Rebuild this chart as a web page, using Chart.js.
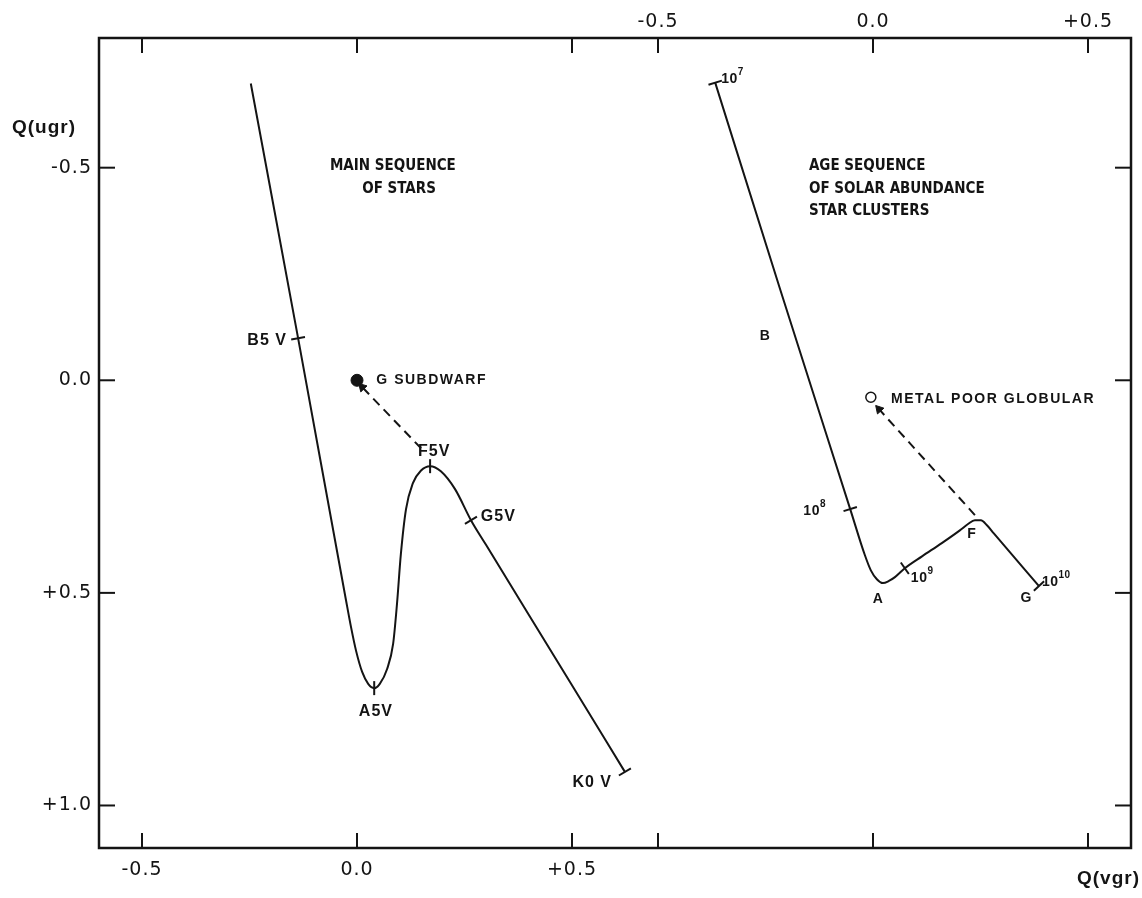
<!DOCTYPE html>
<html>
<head>
<meta charset="utf-8">
<script src="https://cdn.jsdelivr.net/npm/chart.js@4.4.0/dist/chart.umd.min.js"></script>
<style>
  html, body { margin: 0; padding: 0; background: #fff; }
  #wrap { width: 1142px; height: 898px; }
</style>
</head>
<body>
<div id="wrap"><canvas id="chart" width="1142" height="898"></canvas></div>
<script>
// Main sequence of stars, bottom axis Q(vgr) vs Q(ugr)
const mainSeqX = [-0.247, -0.137, -0.026, -0.014, -0.002, 0.012, 0.026, 0.040, 0.053, 0.070, 0.084, 0.093, 0.102, 0.114, 0.130, 0.149, 0.170, 0.195, 0.228, 0.265, 0.300, 0.495, 0.623];
const mainSeqY = [-0.698, -0.099, 0.515, 0.580, 0.637, 0.686, 0.714, 0.724, 0.714, 0.679, 0.620, 0.526, 0.409, 0.303, 0.242, 0.212, 0.202, 0.214, 0.256, 0.329, 0.387, 0.709, 0.921];

// Age sequence of solar abundance clusters, top axis Q(vgr)
const ageSeqX = [-0.367, -0.216, -0.053, -0.019, -0.005, 0.009, 0.023, 0.037, 0.051, 0.074, 0.114, 0.160, 0.202, 0.221, 0.237, 0.251, 0.265, 0.281, 0.386];
const ageSeqY = [-0.700, -0.214, 0.303, 0.411, 0.447, 0.468, 0.477, 0.472, 0.463, 0.442, 0.414, 0.383, 0.353, 0.338, 0.329, 0.329, 0.341, 0.360, 0.484];

// spectral type marks (B5 V, A5 V, F5 V, G5 V, K0 V) and age marks (1e7 .. 1e10)
const mainMarkX = [-0.137, 0.040, 0.170, 0.265, 0.623];
const mainMarkY = [-0.099, 0.724, 0.202, 0.329, 0.921];
const ageMarkX = [-0.367, -0.053, 0.074, 0.386];
const ageMarkY = [-0.700, 0.303, 0.442, 0.484];

// single objects and the dashed arrows leading to them
const subdwarfX = [0.0], subdwarfY = [0.0];
const globularX = [-0.005], globularY = [0.040];
const mainArrowX = [0.149, 0.012], mainArrowY = [0.160, 0.016];
const ageArrowX = [0.237, 0.014], ageArrowY = [0.317, 0.068];

const xTicks = [-0.5, 0.0, 0.5];
const yTicks = [-0.5, 0.0, 0.5, 1.0];

// [text, superscript, x, y, axis, align, kind]
const labels = [
  ['MAIN SEQUENCE', '', -0.063, -0.503, 'x', 'left', 'head'],
  ['OF STARS', '', 0.012, -0.449, 'x', 'left', 'head'],
  ['B5 V', '', -0.163, -0.094, 'x', 'right', 'type'],
  ['G SUBDWARF', '', 0.045, 0.0, 'x', 'left', 'small'],
  ['F5V', '', 0.142, 0.167, 'x', 'left', 'type'],
  ['G5V', '', 0.288, 0.320, 'x', 'left', 'type'],
  ['A5V', '', 0.044, 0.780, 'x', 'center', 'type'],
  ['K0 V', '', 0.593, 0.945, 'x', 'right', 'type'],
  ['AGE SEQUENCE', '', -0.149, -0.503, 'xTop', 'left', 'head'],
  ['OF SOLAR ABUNDANCE', '', -0.149, -0.449, 'xTop', 'left', 'head'],
  ['STAR CLUSTERS', '', -0.149, -0.397, 'xTop', 'left', 'head'],
  ['B', '', -0.251, -0.103, 'xTop', 'center', 'letter'],
  ['10', '7', -0.353, -0.708, 'xTop', 'left', 'letter'],
  ['10', '8', -0.162, 0.308, 'xTop', 'left', 'letter'],
  ['A', '', 0.012, 0.515, 'xTop', 'center', 'letter'],
  ['10', '9', 0.088, 0.465, 'xTop', 'left', 'letter'],
  ['F', '', 0.230, 0.362, 'xTop', 'center', 'letter'],
  ['G', '', 0.356, 0.512, 'xTop', 'center', 'letter'],
  ['10', '10', 0.393, 0.474, 'xTop', 'left', 'letter'],
  ['METAL POOR GLOBULAR', '', 0.042, 0.045, 'xTop', 'left', 'small'],
];

const INK = '#141414';
const LABEL_FONT = {
  head:   ['bold 15px "DejaVu Sans Condensed", "Liberation Sans", sans-serif', '0px'],
  small:  ['bold 14px "Liberation Sans", sans-serif', '1.5px'],
  type:   ['bold 16px "Liberation Sans", sans-serif', '1px'],
  letter: ['bold 14px "Liberation Sans", sans-serif', '0.5px'],
};

function pts(xs, ys) { return xs.map(function (x, i) { return { x: x, y: ys[i] }; }); }

function fmtTick(v) {
  if (v === 0) return '0.0';
  return (v > 0 ? '+' : '-') + Math.abs(v).toFixed(1);
}

function seg(ctx, x1, y1, x2, y2) {
  ctx.beginPath(); ctx.moveTo(x1, y1); ctx.lineTo(x2, y2); ctx.stroke();
}

const framePlugin = {
  id: 'frame',
  afterDraw: function (chart) {
    const ctx = chart.ctx, a = chart.chartArea, s = chart.scales;
    ctx.save();
    ctx.strokeStyle = INK;
    ctx.fillStyle = INK;
    ctx.lineWidth = 2.5;
    ctx.strokeRect(a.left, a.top, a.right - a.left, a.bottom - a.top);

    // inward ticks: both x systems on both horizontal edges
    ctx.lineWidth = 2;
    const xs = xTicks.map(function (v) { return s.x.getPixelForValue(v); })
      .concat(xTicks.map(function (v) { return s.xTop.getPixelForValue(v); }));
    xs.forEach(function (px) {
      seg(ctx, px, a.bottom, px, a.bottom - 15);
      seg(ctx, px, a.top, px, a.top + 15);
    });
    yTicks.forEach(function (v) {
      const py = s.y.getPixelForValue(v);
      seg(ctx, a.left, py, a.left + 16, py);
      seg(ctx, a.right, py, a.right - 16, py);
    });

    // tick labels
    ctx.font = '19px "DejaVu Sans", sans-serif';
    ctx.letterSpacing = '1px';
    ctx.textBaseline = 'middle';
    ctx.textAlign = 'center';
    xTicks.forEach(function (v) {
      ctx.fillText(fmtTick(v), s.x.getPixelForValue(v), a.bottom + 22);
      ctx.fillText(fmtTick(v), s.xTop.getPixelForValue(v), a.top - 16);
    });
    ctx.textAlign = 'right';
    yTicks.forEach(function (v) {
      ctx.fillText(fmtTick(v), a.left - 7, s.y.getPixelForValue(v));
    });

    // axis titles
    ctx.font = 'bold 19px "Liberation Sans", sans-serif';
    ctx.textAlign = 'left';
    ctx.fillText('Q(ugr)', 12, s.y.getPixelForValue(-0.5) - 40);
    ctx.textAlign = 'right';
    ctx.fillText('Q(vgr)', 1140, a.bottom + 31);

    // annotations
    labels.forEach(function (l) {
      const f = LABEL_FONT[l[6]];
      ctx.font = f[0];
      ctx.letterSpacing = f[1];
      ctx.textAlign = l[5];
      const px = s[l[4]].getPixelForValue(l[2]);
      const py = s.y.getPixelForValue(l[3]);
      ctx.fillText(l[0], px, py);
      if (l[1]) {
        const w = ctx.measureText(l[0]).width;
        ctx.font = 'bold 10px "Liberation Sans", sans-serif';
        ctx.textAlign = 'left';
        ctx.fillText(l[1], px + w, py - 7);
      }
    });
    ctx.restore();
  },
};

const lineStyle = {
  showLine: true,
  borderColor: INK,
  borderWidth: 2,
  pointRadius: 0,
  cubicInterpolationMode: 'monotone',
};

new Chart(document.getElementById('chart').getContext('2d'), {
  type: 'scatter',
  data: {
    datasets: [
      Object.assign({ label: 'main sequence', data: pts(mainSeqX, mainSeqY), xAxisID: 'x' }, lineStyle),
      Object.assign({ label: 'age sequence', data: pts(ageSeqX, ageSeqY), xAxisID: 'xTop' }, lineStyle),
      {
        label: 'spectral marks', data: pts(mainMarkX, mainMarkY), xAxisID: 'x',
        pointStyle: 'line', pointRadius: 7, borderWidth: 2, borderColor: INK,
        rotation: [-10, 90, 90, -31, -31],
      },
      {
        label: 'age marks', data: pts(ageMarkX, ageMarkY), xAxisID: 'xTop',
        pointStyle: 'line', pointRadius: 7, borderWidth: 2, borderColor: INK,
        rotation: [-17, -17, 55, -43],
      },
      {
        label: 'subdwarf shift', data: pts(mainArrowX, mainArrowY), xAxisID: 'x',
        showLine: true, borderColor: INK, borderWidth: 2, borderDash: [9, 6],
        pointRadius: [0, 5], pointStyle: 'triangle', rotation: -44,
        pointBackgroundColor: INK, pointBorderWidth: 1,
      },
      {
        label: 'globular shift', data: pts(ageArrowX, ageArrowY), xAxisID: 'xTop',
        showLine: true, borderColor: INK, borderWidth: 2, borderDash: [9, 6],
        pointRadius: [0, 5], pointStyle: 'triangle', rotation: -42,
        pointBackgroundColor: INK, pointBorderWidth: 1,
      },
      {
        label: 'G subdwarf', data: pts(subdwarfX, subdwarfY), xAxisID: 'x',
        pointRadius: 6, pointBackgroundColor: INK, pointBorderColor: INK,
      },
      {
        label: 'metal poor globular', data: pts(globularX, globularY), xAxisID: 'xTop',
        pointRadius: 5, pointBackgroundColor: '#fff', pointBorderColor: INK, pointBorderWidth: 1.5,
      },
    ],
  },
  options: {
    responsive: false,
    animation: false,
    devicePixelRatio: 1,
    layout: { padding: { left: 99, right: 11, top: 38, bottom: 50 } },
    plugins: { legend: { display: false }, tooltip: { enabled: false } },
    scales: {
      x:    { type: 'linear', position: 'bottom', min: -0.6, max: 1.8, display: false },
      xTop: { type: 'linear', position: 'top', min: -1.8, max: 0.6, display: false },
      y:    { type: 'linear', reverse: true, min: -0.805, max: 1.1, display: false },
    },
  },
  plugins: [framePlugin],
});
</script>
</body>
</html>
